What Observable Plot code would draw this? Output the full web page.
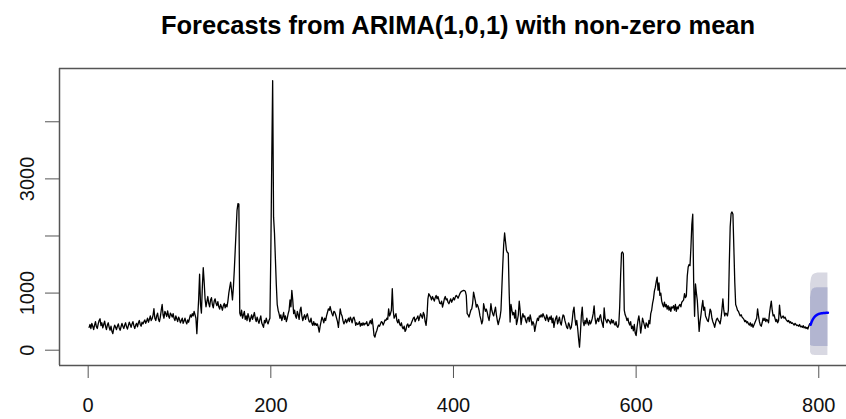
<!DOCTYPE html>
<html><head><meta charset="utf-8">
<script src="https://cdn.jsdelivr.net/npm/d3@7"></script>
<script src="https://cdn.jsdelivr.net/npm/@observablehq/plot@0.6"></script>
<style>
body{margin:0;background:#fff;}
#title{width:846px;height:50px;box-sizing:border-box;padding-left:70px;padding-top:13px;text-align:center;font:bold 25.5px "Liberation Sans",Arial,Helvetica,sans-serif;line-height:1;color:#000;white-space:nowrap;}
#chart svg{display:block;}
</style></head><body>
<div id="title">Forecasts from ARIMA(1,0,1) with non-zero mean</div>
<div id="chart"></div>
<script>
const series = [
400,450,380,470,420,360,440,500,410,380,
460,520,550,430,480,390,450,510,420,360,
440,480,400,350,420,330,290,380,440,400,
360,420,460,390,350,410,470,420,380,440,
480,410,370,430,490,450,400,460,500,430,
380,440,470,410,480,520,450,420,490,460,
500,530,470,510,560,490,540,600,520,550,
610,726,560,520,600,650,540,500,580,700,
800,620,560,680,640,590,690,600,560,650,
620,580,640,560,520,600,550,500,580,540,
480,520,560,470,510,560,500,460,530,490,
560,620,580,640,600,680,620,560,290,600,
900,1330,800,650,1100,1445,1200,900,760,850,
940,820,760,880,920,800,740,860,900,820,
780,850,760,720,800,760,700,780,820,740,
800,760,860,1000,1100,1193,1050,880,1100,1400,
1750,2100,2450,2568,2560,650,600,700,560,620,
680,540,600,520,640,580,500,560,620,540,
600,660,560,500,580,520,470,540,600,480,
440,400,520,480,560,500,460,520,560,1700,
3300,4719,2330,2050,1600,1150,800,700,640,560,
620,520,580,660,540,600,500,560,640,700,
880,760,1047,880,640,700,600,560,680,620,
540,700,754,600,520,580,620,540,600,638,
560,500,493,560,470,435,500,440,470,435,
460,400,318,420,500,580,540,480,560,520,
600,660,725,700,765,690,638,600,680,667,
620,560,500,400,560,725,640,600,520,460,
500,540,480,520,560,500,580,540,480,560,
580,520,435,480,450,460,500,420,470,435,
480,440,470,460,500,430,435,480,520,460,
550,420,260,228,300,340,400,440,420,460,
500,490,440,480,530,520,560,540,725,600,
640,700,1077,695,560,600,640,520,480,540,
460,430,480,400,375,420,330,360,440,460,
400,440,435,480,520,560,580,500,540,560,
600,520,580,638,600,560,660,620,500,435,
600,900,989,960,930,880,940,900,860,920,
960,900,940,880,820,813,860,754,820,900,
940,880,900,840,813,860,900,840,880,920,
880,930,960,940,910,950,990,1018,1030,1040,
1047,1045,1030,960,640,620,580,640,700,725,
820,1018,940,860,754,800,760,700,600,540,
460,520,813,740,680,720,660,580,520,640,
813,700,640,600,680,754,620,520,450,520,
580,700,1100,1500,1850,2053,1900,1750,1710,1702,
1000,493,800,700,620,660,560,700,450,520,
620,860,700,450,560,640,580,600,520,480,
560,580,500,620,540,440,500,460,330,420,
500,560,520,600,580,620,580,640,600,560,
520,620,560,500,580,540,600,480,560,400,
500,560,600,460,520,580,480,440,540,620,
600,520,460,400,380,480,440,370,400,520,
680,754,560,440,520,380,200,53,300,600,
754,500,430,520,460,560,480,440,520,460,
500,560,640,777,560,460,520,560,500,580,
620,520,460,400,742,560,520,480,540,520,
500,460,540,480,520,460,440,500,420,400,
450,754,1300,1700,1719,1690,700,620,580,520,
560,480,440,500,380,420,340,450,300,255,
400,520,600,480,300,420,560,500,440,380,
480,440,400,520,460,640,700,820,900,1035,
1100,1200,1281,1050,1180,960,1000,860,800,760,
840,760,800,720,780,700,760,680,760,740,
780,700,800,680,760,725,780,800,760,840,
860,880,990,920,950,1300,1456,1500,1480,1800,
2200,2381,1200,594,1160,1000,870,600,330,500,
620,760,870,700,754,600,560,520,500,600,
720,680,560,500,460,400,480,540,560,520,
500,460,560,720,900,700,600,650,638,600,
700,1500,2160,2393,2421,2380,1800,1200,800,754,
700,680,640,600,620,580,560,540,500,520,
480,500,460,440,480,420,460,400,440,480,
520,560,725,600,500,440,420,480,560,520,
560,500,540,520,480,640,760,860,700,600,
620,560,500,540,480,520,790,620,560,580,
600,560,580,540,520,500,520,480,500,470,
480,460,440,470,450,430,440,420,450,410,
420,400,430,390,410,380,400,370,420,463
];
const forecastMean = [445,490,525,553,576,594,608,619,628,635,640,644,647,649,651,652,653,654,655,655];
const hi95 = [1150,1260,1300,1320,1332,1340,1345,1348,1350,1351,1352,1352,1353,1353,1353,1353,1353,1353,1353,1353];
const lo95 = [-40,-70,-82,-88,-90,-92,-93,-93,-93,-93,-93,-93,-93,-93,-93,-93,-93,-93,-93,-93];
const hi80 = [920,1020,1055,1072,1082,1088,1091,1093,1094,1095,1095,1095,1095,1095,1095,1095,1095,1095,1095,1095];
const lo80 = [90,75,70,67,66,65,65,65,65,65,65,65,65,65,65,65,65,65,65,65];
const xTicks = [0,200,400,600,800];
const yTicks = [0,1000,2000,3000,4000];
const yTickLabels = ["0","1000","","3000",""];
const xDomain = [-31.4, 842.4];
const yDomain = [-268, 4933];

const obs = series.map((v,i)=>({t:i+1, v}));
const n = series.length;
const fc = forecastMean.map((m,i)=>({t:n+1+i, mean:m, lo80:lo80[i], hi80:hi80[i], lo95:lo95[i], hi95:hi95[i]}));

const font = '"Liberation Sans", Arial, Helvetica, sans-serif';
const chart = Plot.plot({
  width: 846, height: 369,
  marginLeft: 59, marginRight: 0, marginTop: 18, marginBottom: 54,
  x: {domain: xDomain, range: [59, 857]},
  y: {domain: yDomain},
  style: {fontFamily: font, background: "#fff", color: "#000"},
  marks: [
    Plot.areaY(fc, {x:"t", y1:"lo95", y2:"hi95", fill:"#d8d8e2"}),
    Plot.areaY(fc, {x:"t", y1:"lo80", y2:"hi80", fill:"#b2b5d0"}),
    Plot.lineY(obs, {x:"t", y:"v", stroke:"#000", strokeWidth:1.3}),
    Plot.lineY(fc, {x:"t", y:"mean", stroke:"#0000ff", strokeWidth:2.5}),
    Plot.ruleY(yDomain, {stroke:"#555", strokeWidth:1.5}),
    Plot.ruleX([xDomain[0]], {stroke:"#555", strokeWidth:1.5}),
    Plot.axisX({ticks: xTicks, tickSize: 13, tickPadding: 19, fontSize: 20, stroke:"#555", fill:"#111", label: null, tickFormat: d => String(d)}),
    Plot.axisY({ticks: yTicks, tickSize: 14, tickPadding: 12, tickRotate: -90, fontSize: 20, stroke:"#555", fill:"#111", label: null, tickFormat: (d,i) => yTickLabels[yTicks.indexOf(d)]})
  ]
});
document.getElementById("chart").appendChild(chart);
</script>
</body></html>
